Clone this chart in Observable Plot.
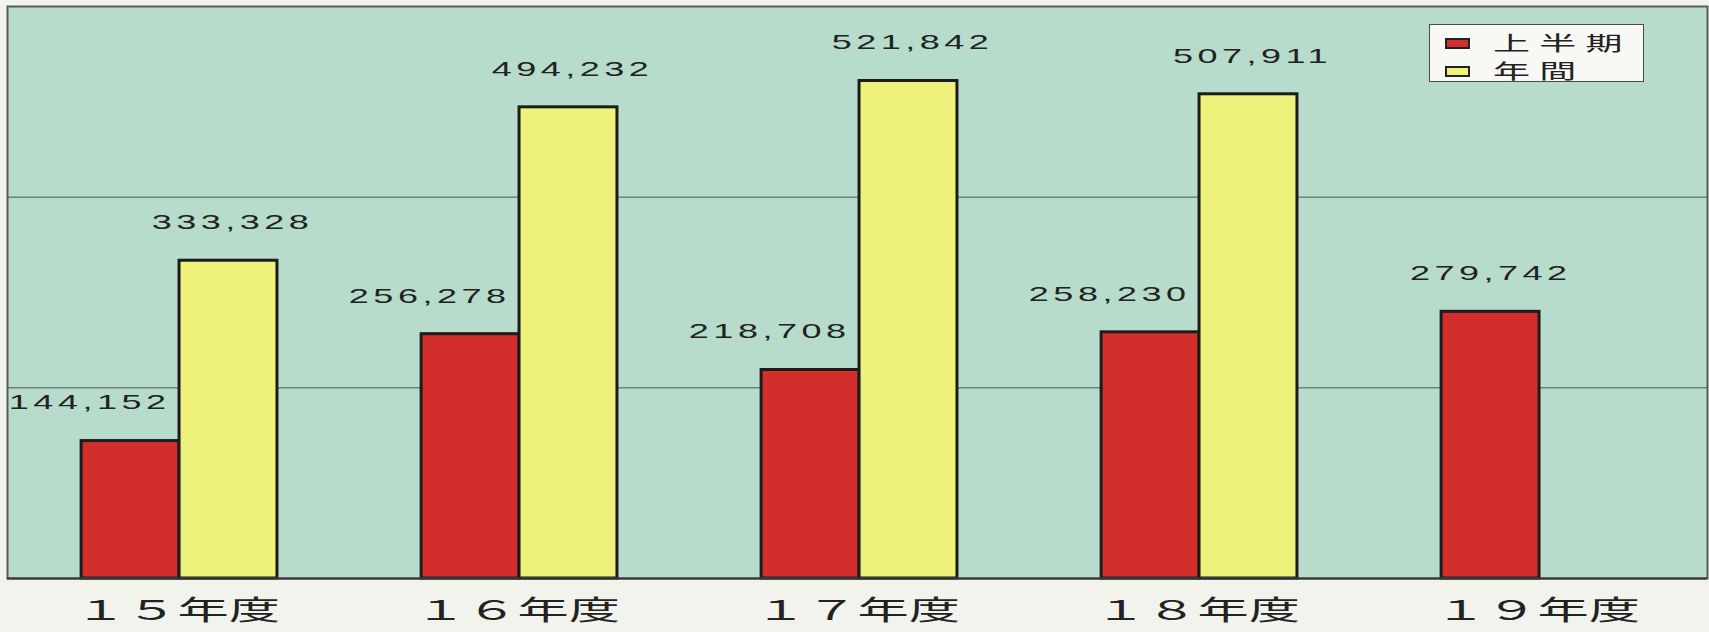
<!DOCTYPE html>
<html><head><meta charset="utf-8">
<script src="https://cdn.jsdelivr.net/npm/d3@7"></script>
<script src="https://cdn.jsdelivr.net/npm/@observablehq/plot@0.6"></script>
<style>
body{margin:0;background:#f3f3ee;}
#wrap{position:relative;width:1709px;height:632px;}
#legend{position:absolute;left:1429px;top:24px;width:213px;height:56px;background:#f8f8f4;border:1.5px solid #4a4a4a;font-family:"Noto Sans CJK JP",sans-serif;}
.row{position:absolute;left:15px;display:flex;align-items:center;height:24px;}
.sw{width:21px;height:7px;border:2px solid #222;}
.lab{font-size:20px;margin-left:23px;letter-spacing:5px;transform:scaleX(1.85);transform-origin:left center;color:#222;line-height:24px;white-space:nowrap;}
</style></head><body>
<div id="wrap"><div id="legend"></div></div>
<script>
const years = ["１５年度", "１６年度", "１７年度", "１８年度", "１９年度"];
const seriesNames = ["上半期", "年間"];
const firstHalf = [144152, 256278, 218708, 258230, 279742];
const annual = [333328, 494232, 521842, 507911, null];
const gridValues = [200000, 400000];
const seriesColors = ["#d22f2c", "#eef27a"];

const W = 1709, H = 632, ml = 7, mr = 2, mt = 6, mb = 54;
const bw = (W - ml - mr) / years.length;
const fmt = d3.format(",");

const data = [];
years.forEach((y, i) => {
  data.push({year: y, series: seriesNames[0], value: firstHalf[i]});
  if (annual[i] != null) data.push({year: y, series: seriesNames[1], value: annual[i]});
});
const withAnnual = new Set(data.filter(d => d.series === seriesNames[1]).map(d => d.year));
const red = data.filter(d => d.series === seriesNames[0]);
const yel = data.filter(d => d.series === seriesNames[1]);

const textOpts = {x: "year", y: "value", text: d => fmt(d.value), dy: -38, fontSize: 20,
  fontFamily: "'Liberation Sans', Arial, sans-serif", fill: "#222"};

const chart = Plot.plot({
  width: W, height: H, marginLeft: ml, marginRight: mr, marginTop: mt, marginBottom: mb,
  style: {background: "transparent", color: "#222", fontFamily: "'Liberation Sans', Arial, sans-serif"},
  x: {domain: years, padding: 0, label: null},
  y: {domain: [0, 600000], axis: null},
  color: {domain: seriesNames, range: seriesColors},
  marks: [
    Plot.frame({fill: "#b8dccb", stroke: "none"}),
    Plot.ruleY(gridValues, {stroke: "#6f8279", strokeWidth: 1.5}),
    Plot.barY(red, {x: "year", y: "value", fill: "series", stroke: "#1c1c1c", strokeWidth: 3,
      insetLeft: bw * 0.218, insetRight: bw * 0.494}),
    Plot.barY(yel, {x: "year", y: "value", fill: "series", stroke: "#1c1c1c", strokeWidth: 3,
      insetLeft: bw * 0.506, insetRight: bw * 0.206}),
    Plot.frame({stroke: "#5a5a5a", strokeWidth: 2}),
    Plot.ruleY([0], {stroke: "#333", strokeWidth: 2}),
    Plot.text(red.filter(d => withAnnual.has(d.year)), {...textOpts, dx: -bw * 0.265}),
    Plot.text(red.filter(d => !withAnnual.has(d.year)), {...textOpts, dx: -bw * 0.144}),
    Plot.text(yel, {...textOpts, dx: bw * 0.155}),
    Plot.axisX({tickSize: 0, tickPadding: 22, fontSize: 27, fontFamily: "'Noto Sans CJK JP', sans-serif", fill: "#222"})
  ]
});

// horizontally stretch glyphs about each text's own anchor, like the wide lettering of the original
chart.querySelectorAll("text").forEach(t => {
  const s = t.textContent;
  let k = 0, ls = 0;
  if (/^\d{1,3}(,\d{3})+$/.test(s)) { k = 1.8; ls = 2.5; }
  else if (/年度$/.test(s)) { k = 1.9; }
  if (!k) return;
  const x = parseFloat(t.getAttribute("x")) || 0;
  const tr = t.getAttribute("transform") || "";
  t.setAttribute("transform", `${tr} translate(${x},0) scale(${k},1) translate(${-x},0)`);
  if (ls) { t.style.letterSpacing = ls + "px"; t.setAttribute("dx", ls / 2); }
});

document.getElementById("wrap").prepend(chart);

const legend = document.getElementById("legend");
seriesNames.forEach((n, i) => {
  const row = document.createElement("div");
  row.className = "row";
  row.style.top = (6 + i * 28) + "px";
  const sw = document.createElement("div");
  sw.className = "sw"; sw.style.background = seriesColors[i];
  const lab = document.createElement("span");
  lab.className = "lab"; lab.textContent = n;
  row.append(sw, lab);
  legend.append(row);
});
</script></body></html>
